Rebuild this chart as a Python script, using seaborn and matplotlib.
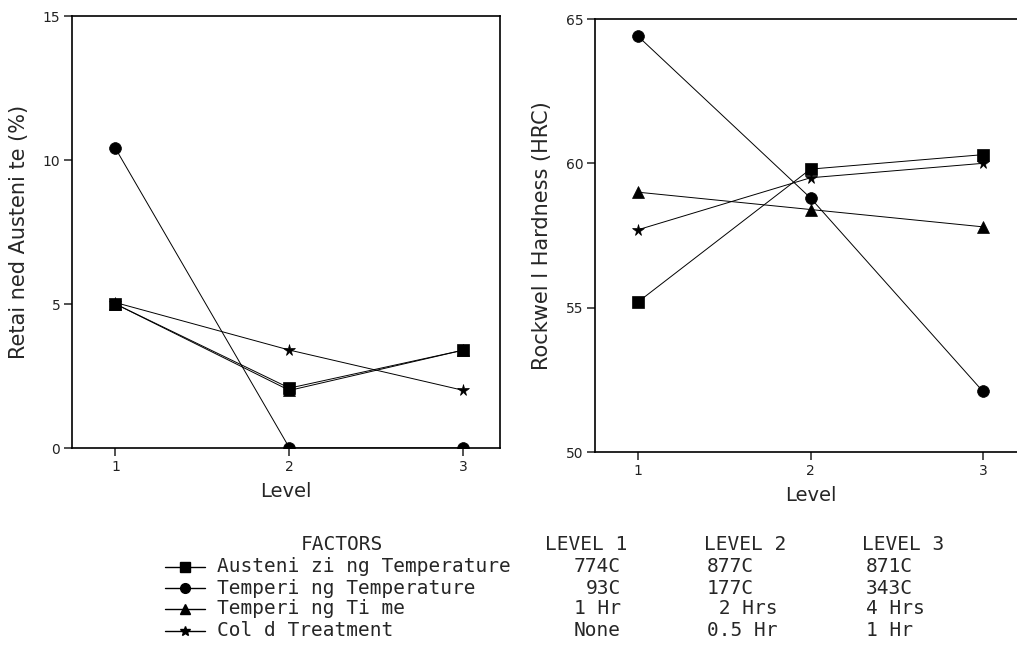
import pandas as pd
import matplotlib.pyplot as plt
import seaborn as sns
from matplotlib.lines import Line2D

# data
levels = [1, 2, 3]
factors = ["Austeni zi ng Temperature", "Temperi ng Temperature",
           "Temperi ng Ti me", "Col d Treatment"]
marker_list = ["s", "o", "^", "*"]

austenite_sq = [5.0, 2.08, 3.4]
austenite_ci = [10.4, 0.0, 0.0]
austenite_tr = [5.0, 2.0, 3.4]
austenite_st = [5.05, 3.4, 2.0]

hrc_sq = [55.2, 59.8, 60.3]
hrc_ci = [64.4, 58.8, 52.1]
hrc_tr = [59.0, 58.4, 57.8]
hrc_st = [57.7, 59.5, 60.0]

level1_vals = ["774C", "93C", "1 Hr", "None"]
level2_vals = ["877C", "177C", " 2 Hrs", "0.5 Hr"]
level3_vals = ["871C", "343C", "4 Hrs", "1 Hr"]

# long-form table
rows = []
for f, ra, hr in zip(factors,
                     [austenite_sq, austenite_ci, austenite_tr, austenite_st],
                     [hrc_sq, hrc_ci, hrc_tr, hrc_st]):
    for lv, a, h in zip(levels, ra, hr):
        rows.append({"Factor": f, "Level": lv, "RA": a, "HRC": h})
df = pd.DataFrame(rows)

sns.set_style("white")
plt.rcParams['font.family'] = ['DejaVu Sans']

W, H = 1017, 646
fig = plt.figure(figsize=(W / 100, H / 100), dpi=100)

def px_axes(x0, y_top, x1, y_bot):
    return fig.add_axes([x0 / W, 1 - y_bot / H, (x1 - x0) / W, (y_bot - y_top) / H])

ax1 = px_axes(72, 16, 500, 448)
ax2 = px_axes(595, 19, 1026, 452)

mk = dict(zip(factors, marker_list))
for ax, col in [(ax1, "RA"), (ax2, "HRC")]:
    sns.lineplot(data=df, x="Level", y=col, style="Factor", markers=mk,
                 dashes=False, color="black", linewidth=0.7, markersize=8.5,
                 markeredgecolor="black", markeredgewidth=0.5,
                 legend=False, ax=ax)

ax1.set_xlim(0.75, 3.21)
ax1.set_ylim(0, 15)
ax1.set_yticks([0, 5, 10, 15])
ax2.set_xlim(0.75, 3.25)
ax2.set_ylim(50, 65)
ax2.set_yticks([50, 55, 60, 65])

ax1.set_ylabel("Retai ned Austeni te (%)", fontsize=15, labelpad=10)
ax2.set_ylabel("Rockwel l Hardness (HRC)", fontsize=15, labelpad=10)

for ax in (ax1, ax2):
    ax.set_xticks(levels)
    ax.set_xlabel("Level", fontsize=14, labelpad=6)
    ax.tick_params(axis="both", direction="out", length=6, width=1.1, pad=2.5,
                   labelsize=10, colors="#222222", left=True, bottom=True)
    for s in ax.spines.values():
        s.set_linewidth(1.2)
        s.set_color("black")

# legend / table below the plots
mono = "DejaVu Sans Mono"
fs = 14
y_head = 545
row_y = [567, 588, 609, 631]
fig.text(342 / W, 1 - y_head / H, "FACTORS", ha="center", va="center",
         family=mono, fontsize=fs)
for x, t in [(545, "LEVEL 1"), (704, "LEVEL 2"), (862, "LEVEL 3")]:
    fig.text(x / W, 1 - y_head / H, t, ha="left", va="center", family=mono, fontsize=fs)

for i, y in enumerate(row_y):
    yf = 1 - y / H
    fig.add_artist(Line2D([165 / W, 205 / W], [yf, yf], color="black", lw=1.0,
                          transform=fig.transFigure))
    fig.add_artist(Line2D([185 / W], [yf], marker=marker_list[i], color="black",
                          markersize=7, transform=fig.transFigure))
    fig.text(217 / W, yf, factors[i], ha="left", va="center", family=mono, fontsize=fs)
    fig.text(621 / W, yf, level1_vals[i], ha="right", va="center", family=mono, fontsize=fs)
    fig.text(707 / W, yf, level2_vals[i], ha="left", va="center", family=mono, fontsize=fs)
    fig.text(866 / W, yf, level3_vals[i], ha="left", va="center", family=mono, fontsize=fs)

fig.savefig("out.png", dpi=100)
